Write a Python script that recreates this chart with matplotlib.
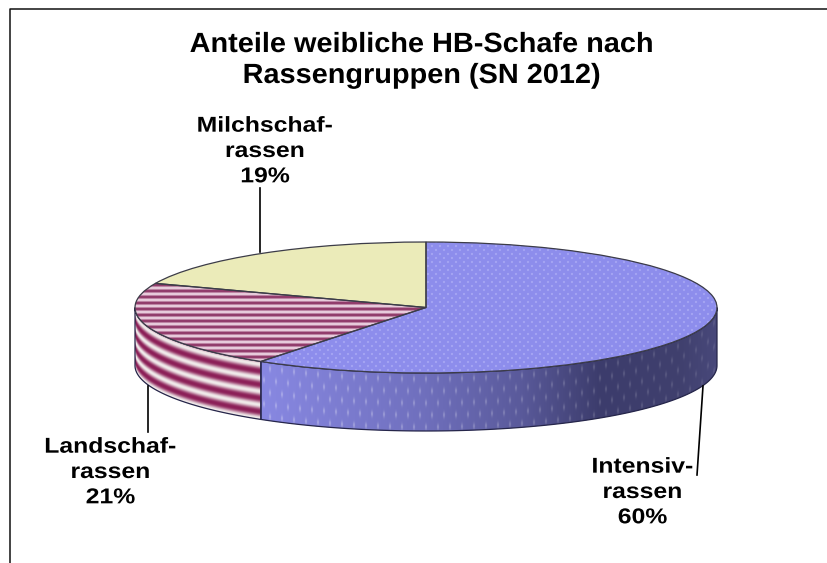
import numpy as np
import matplotlib
matplotlib.use("Agg")
from matplotlib import pyplot as plt
from matplotlib.patches import Wedge, Polygon
from matplotlib.patheffects import AbstractPathEffect
from matplotlib.transforms import Affine2D

title = "Anteile weibliche HB-Schafe nach\nRassengruppen (SN 2012)"
labels = ["Intensiv-\nrassen\n60%", "Landschaf-\nrassen\n21%", "Milchschaf-\nrassen\n19%"]
# read from the slice edges, the labels round these
shares = [59.6, 21.4, 19.0]
colors = ["#8f8fea", "#c98aa8", "#ebebb9"]

W, H = 827, 563
cx, cy = 426, 307.5
rx, ry = 291, 65.5
depth = 58


class StretchX(AbstractPathEffect):
    # the original font is wider than Liberation Sans
    def __init__(self, x0, factor):
        super().__init__()
        self.x0 = x0
        self.factor = factor

    def draw_path(self, renderer, gc, tpath, affine, rgbFace=None):
        stretch = Affine2D().translate(-self.x0, 0).scale(self.factor, 1).translate(self.x0, 0)
        renderer.draw_path(gc, tpath, affine + stretch, rgbFace)


def mix(a, b, t):
    a, b = np.array(a, float), np.array(b, float)
    return (a + (b - a) * t[..., None]) / 255


px, py = np.meshgrid(np.arange(W) + 0.5, np.arange(H) + 0.5)
nx = np.clip((px - cx) / rx, -1, 1)
z = py - (cy + ry * np.sqrt(1 - nx ** 2))


def dots(xp, yp, step_x, step_y, size_x, size_y):
    row = np.floor(yp / step_y)
    u = (xp + row * step_x / 2) % step_x - step_x / 2
    v = yp % step_y - step_y / 2
    return np.exp(-(u / size_x) ** 2 - (v / size_y) ** 2)


top_textures = [
    mix((141, 141, 236), (182, 182, 248), dots(px, py, 8, 4, 0.9, 0.9)),
    mix((140, 50, 100), (238, 214, 228), 0.5 + 0.5 * np.cos(2 * np.pi * py / 6)),
    None,
]

shade_x = [263, 420, 520, 600, 680, 716]
shade_r = [136, 112, 90, 60, 64, 72]
shade_b = [226, 190, 155, 108, 110, 122]
side_blue = np.dstack([np.interp(px, shade_x, shade_r), np.interp(px, shade_x, shade_r),
                       np.interp(px, shade_x, shade_b)]) / 255
fade = (1.15 - 0.8 * (px - 263) / 453).clip(0, 1)
side_blue = side_blue + (1 - side_blue) * 0.35 * (dots(px, z, 12, 12, 0.9, 3.0) * fade)[..., None]
side_textures = [
    side_blue,
    mix((140, 32, 88), (240, 234, 234), (0.5 + 0.5 * np.cos(2 * np.pi * (z - 3) / 13.5)) ** 1.2),
    None,
]

fig = plt.figure(figsize=(W / 100, H / 100), dpi=100)
ax = fig.add_axes([0, 0, 1, 1])
xlim = ((0 - cx) / rx, (W - cx) / rx)
ylim = ((cy - H) / ry, cy / ry)
d = depth / ry

wedges, _ = ax.pie(shares, colors=colors, startangle=90, counterclock=False, radius=1,
                   wedgeprops={"linewidth": 0, "zorder": 3})
ax.set_aspect("auto")
extent = (xlim[0], xlim[1], ylim[0], ylim[1])

# side wall, only the part of the circle that faces the viewer
start = 0
for share, color, side in zip(shares, colors, side_textures):
    end = start + share * 3.6
    a, b = max(start, 90), min(end, 270)
    start = end
    if a >= b:
        continue
    t = np.radians(np.linspace(a, b, 120))
    upper = np.column_stack([np.sin(t), np.cos(t)])
    lower = (upper - [0, d])[::-1]
    wall = Polygon(np.vstack([upper, lower]), closed=True, fc=color, ec="none", zorder=1)
    ax.add_patch(wall)
    im = ax.imshow(side, extent=extent, aspect="auto", zorder=2, interpolation="bilinear")
    im.set_clip_path(wall)
    ax.add_patch(Polygon(np.vstack([upper, lower]), closed=True, fill=False, ec="#26264a", lw=0.9, zorder=2.5))

# top faces
for w, texture in zip(wedges, top_textures):
    if texture is not None:
        im = ax.imshow(texture, extent=extent, aspect="auto", zorder=4, interpolation="bilinear")
        im.set_clip_path(w)
    ax.add_patch(Wedge(w.center, w.r, w.theta1, w.theta2, fill=False, ec="#3c3c48", lw=0.9, zorder=5))

ax.set_xlim(xlim)
ax.set_ylim(ylim)
ax.axis("off")

over = fig.add_axes([0, 0, 1, 1], facecolor="none")
over.set_xlim(0, W)
over.set_ylim(H, 0)
over.axis("off")

# frame has only top and left edge
over.plot([9.5, 9.5, W], [H, 8.5, 8.5], color="#111111", lw=1.1, solid_capstyle="butt")

over.plot([260, 260], [188, 252], color="black", lw=1.2)
over.plot([148, 148], [386, 432], color="black", lw=1.2)
over.plot([703, 697], [386, 475], color="black", lw=1.2)

font = "Liberation Sans"
tt = over.text(421.5, 60.5, title, ha="center", va="center", fontsize=20, fontweight="bold",
               family=font, linespacing=1.25, color="black")
tt.set_path_effects([StretchX(421.5, 1.04)])

for txt, x, y in zip(labels, [642.5, 110.5, 265], [492.5, 472.5, 151.5]):
    t = over.text(x, y, txt, ha="center", va="center", fontsize=15.5, fontweight="bold",
                  family=font, linespacing=1.27, color="black")
    t.set_path_effects([StretchX(x, 1.15)])

fig.savefig("out.png", dpi=100)
